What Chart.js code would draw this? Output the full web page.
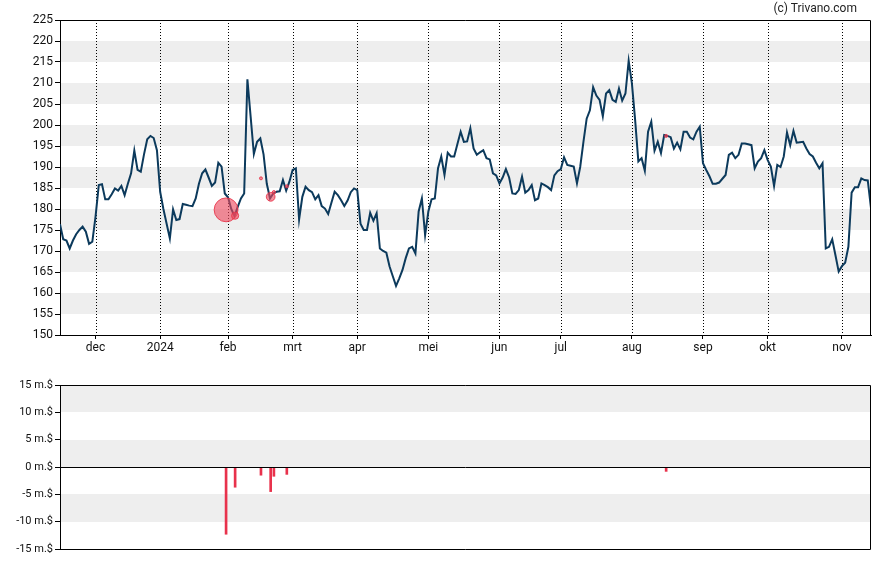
<!DOCTYPE html>
<html><head><meta charset="utf-8">
<script src="https://cdn.jsdelivr.net/npm/chart.js@4.4.1/dist/chart.umd.min.js"></script>
<style>
html,body{margin:0;padding:0;background:#fff;width:888px;height:565px;overflow:hidden;}
#topBox{position:absolute;left:0;top:0;width:888px;height:365px;}
#botBox{position:absolute;left:0;top:365px;width:888px;height:200px;}
#credit{position:absolute;right:31px;top:1px;font:12px Roboto, sans-serif;color:#222;line-height:14px;}
</style></head><body>
<div id="topBox"><canvas id="top" width="888" height="365"></canvas></div>
<div id="botBox"><canvas id="bot" width="888" height="200"></canvas></div>
<div id="credit">(c) Trivano.com</div>
<script>
// ---- data (trading-day index 0 = 15 Nov 2023) ----
const monthTickIdx = [11,31,52,72,92,114,136,155,177,199,219,242];
const monthTickLabels = ['dec','2024','feb','mrt','apr','mei','jun','jul','aug','sep','okt','nov'];

const nov23 = [176.4,172.8,172.5,170.6,172.5,174.0,175.0,175.8,174.6,171.7,172.2];
const dec23 = [178.2,185.7,185.9,182.3,182.3,183.5,184.9,184.4,185.5,183.3,186.0,188.5,193.9,189.3,188.9,193.0,196.6,197.4,196.9,194.0];
const jan24 = [184.1,180.0,176.5,173.0,179.9,177.4,177.6,181.2,181.0,180.8,180.7,182.5,186.0,188.5,189.4,187.5,185.5,186.3,191.0,190.1,183.7];
const feb24 = [182.8,180.0,178.3,180.5,182.5,183.7,210.9,202.0,193.1,196.0,196.8,193.0,186.0,182.5,183.7,184.1,184.2,186.9,184.4,186.5];
const mar24 = [189.3,189.7,177.5,182.9,185.3,184.5,184.0,182.3,183.3,180.7,180.1,178.8,181.5,184.1,183.3,182.1,180.7,182.0,184.0,184.9];
const apr24 = [184.5,176.5,175.0,175.0,179.1,177.2,179.0,170.6,170.0,169.6,166.3,164.0,161.7,163.5,165.5,168.3,170.6,171.0,169.4,179.4,182.5,173.8];
const may24 = [179.4,182.3,182.5,189.7,192.5,188.1,193.4,192.5,192.5,195.5,198.4,196.0,196.1,199.2,194.4,192.9,193.5,194.0,192.1,191.8,188.5,188.0];
const jun24 = [186.1,187.5,189.5,187.5,183.7,183.6,184.5,187.7,183.9,184.5,185.7,182.1,182.5,186.1,185.7,185.2,184.5,188.0,189.0];
const jul24 = [189.5,192.3,190.5,190.3,190.1,186.1,190.0,196.0,201.5,203.5,209.0,207.0,206.0,202.1,207.5,208.3,206.0,205.5,208.7,205.8,207.5,215.3];
const aug24 = [209.9,201.2,191.3,192.1,189.1,198.4,200.8,193.9,196.0,193.3,197.6,197.4,197.1,194.4,195.8,194.2,198.4,198.4,197.0,196.6,198.4,199.6];
const sep24 = [190.9,189.3,187.8,186.0,186.0,186.3,187.2,188.1,192.9,193.4,192.1,192.9,195.6,195.6,195.4,195.2,189.7,191.3,192.1,194.0];
const oct24 = [191.7,190.1,185.5,190.5,190.0,192.5,198.2,195.2,198.6,195.8,195.9,196.0,194.4,193.1,192.5,191.0,189.7,190.9,170.6,171.0,172.8,169.0,165.1];
const nov24 = [166.4,167.2,171.0,183.9,185.2,185.2,187.3,186.9,186.8,180.2];

// insider trades
const tradeIdx   = [51.4, 54.2, 62.2, 65.2, 66.2, 70.2, 187.6];
const tradePrice = [179.8, 178.4, 187.3, 182.9, 184.0, 185.4, 197.4];
const tradeValue = [-12.3, -3.7, -1.5, -4.5, -1.7, -1.35, -0.8]; // million $

const priceMin = 150, priceMax = 225, priceStep = 5;
const volMin = -15, volMax = 15, volStep = 5;

// ---- build ----
const prices = [].concat(nov23,dec23,jan24,feb24,mar24,apr24,may24,jun24,jul24,aug24,sep24,oct24,nov24);
const lastIdx = prices.length - 1;
const linePts = prices.map((v,i)=>({x:i,y:v}));
const bubblePts = tradeIdx.map((x,i)=>({x:x,y:tradePrice[i],r:Math.max(1.5,Math.abs(tradeValue[i])*0.97)}));
const barPts = tradeIdx.map((x,i)=>({x:x,y:tradeValue[i]}));

const FONT = 'Roboto, "Liberation Sans", sans-serif';

const decoPlugin = {
  id:'deco',
  beforeDraw(chart, args, o){
    const {ctx, chartArea:a, scales} = chart;
    const y = scales.y, x = scales.x;
    ctx.save();
    ctx.fillStyle = '#eeeeee';
    for (const [lo,hi] of o.bands){
      const y1 = Math.round(y.getPixelForValue(hi)), y2 = Math.round(y.getPixelForValue(lo));
      ctx.fillRect(a.left, y1, a.right-a.left, y2-y1);
    }
    if (o.vlines){
      ctx.strokeStyle = '#000'; ctx.lineWidth = 1; ctx.setLineDash([1,2]);
      for (const v of o.vlines){
        const px = Math.round(x.getPixelForValue(v)) + 0.5;
        ctx.beginPath(); ctx.moveTo(px, a.top); ctx.lineTo(px, a.bottom); ctx.stroke();
      }
    }
    ctx.restore();
  },
  afterDraw(chart, args, o){
    const {ctx, chartArea:a, scales} = chart;
    ctx.save();
    ctx.strokeStyle = '#000'; ctx.lineWidth = 1;
    ctx.beginPath();
    ctx.moveTo(a.left, Math.round(a.top)+0.5); ctx.lineTo(Math.round(a.right)-0.5, Math.round(a.top)+0.5);
    ctx.lineTo(Math.round(a.right)-0.5, Math.round(a.bottom)+0.5);
    if (o.bottomLine){ ctx.lineTo(a.left, Math.round(a.bottom)+0.5); }
    ctx.stroke();
    if (o.zeroLine){
      const zy = Math.round(scales.y.getPixelForValue(0)) + 0.5;
      ctx.beginPath(); ctx.moveTo(a.left, zy); ctx.lineTo(a.right, zy); ctx.stroke();
    }
    ctx.restore();
  }
};

function bandsFor(min, max, step, startGray){
  const b = [];
  for (let v = startGray; v < max; v += 2*step) b.push([v, v+step]);
  return b;
}

new Chart(document.getElementById('top'), {
  type:'line',
  data:{datasets:[
    {type:'bubble', data:bubblePts, backgroundColor:'rgba(236,72,94,0.62)', borderColor:'rgba(232,50,72,0.85)', borderWidth:1},
    {type:'line', data:linePts, borderColor:'#0c3a5c', borderWidth:2, pointRadius:0, tension:0, fill:false}
  ]},
  options:{
    responsive:false, animation:false, devicePixelRatio:1,
    layout:{padding:{top:20,right:17,left:0,bottom:0}},
    plugins:{legend:{display:false}, tooltip:{enabled:false},
      deco:{bands:bandsFor(priceMin,priceMax,priceStep,155), vlines:monthTickIdx, bottomLine:false}},
    scales:{
      x:{type:'linear', min:0, max:lastIdx, offset:false,
        afterBuildTicks:s=>{ s.ticks = monthTickIdx.map(v=>({value:v})); },
        afterFit:s=>{ s.height = 30; },
        grid:{drawOnChartArea:false, drawTicks:true, tickLength:4, color:'#000'},
        border:{display:true, color:'#000', width:1},
        ticks:{autoSkip:false, maxRotation:0, padding:2, color:'#111', font:{family:FONT, size:12},
          callback:(v)=>{ const k = monthTickIdx.indexOf(v); return k>=0 ? monthTickLabels[k] : ''; }}
      },
      y:{type:'linear', min:priceMin, max:priceMax,
        afterFit:s=>{ s.width = 60; },
        grid:{drawOnChartArea:false, drawTicks:true, tickLength:5, color:'#000'},
        border:{display:true, color:'#000', width:1},
        ticks:{stepSize:priceStep, padding:2, color:'#111', font:{family:FONT, size:12}}
      }
    }
  },
  plugins:[decoPlugin]
});

new Chart(document.getElementById('bot'), {
  type:'bar',
  data:{datasets:[
    {data:barPts, backgroundColor:'#e8324c', barThickness:2, borderWidth:0}
  ]},
  options:{
    responsive:false, animation:false, devicePixelRatio:1,
    layout:{padding:{top:20,right:17,left:0,bottom:16}},
    plugins:{legend:{display:false}, tooltip:{enabled:false},
      deco:{bands:bandsFor(volMin,volMax,volStep,-10), vlines:null, bottomLine:true, zeroLine:true}},
    scales:{
      x:{type:'linear', min:0, max:lastIdx, offset:false, display:false, grid:{offset:false}},
      y:{type:'linear', min:volMin, max:volMax,
        afterFit:s=>{ s.width = 60; },
        grid:{drawOnChartArea:false, drawTicks:true, tickLength:5, color:'#000'},
        border:{display:true, color:'#000', width:1},
        ticks:{stepSize:volStep, padding:2, color:'#111', font:{family:FONT, size:11},
          callback:(v)=> v + ' m.$'}
      }
    }
  },
  plugins:[decoPlugin]
});
</script>
</body></html>
